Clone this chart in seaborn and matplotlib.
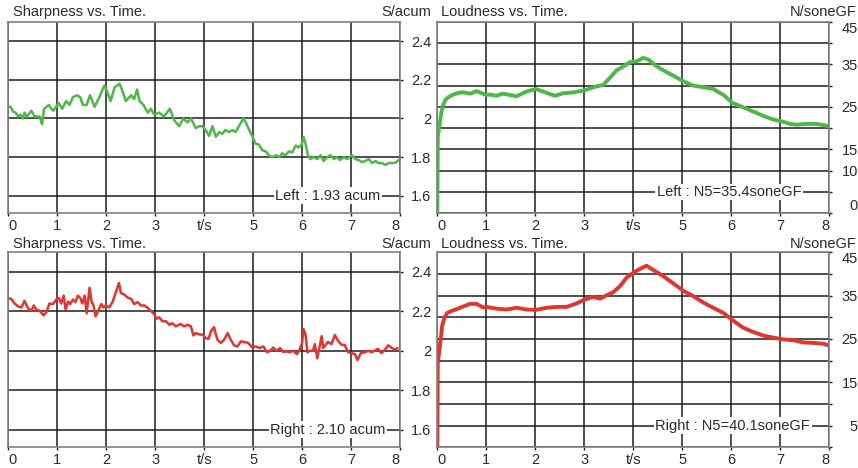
import matplotlib
matplotlib.use("Agg")
import matplotlib.pyplot as plt
import pandas as pd
import seaborn as sns

# ---------------- data ----------------
sharp_left_t = [0.00, 0.05, 0.10, 0.15, 0.20, 0.25, 0.30, 0.33, 0.38, 0.47, 0.54, 0.64, 0.69, 0.73, 0.83, 0.88, 0.92,
                1.03, 1.10, 1.18, 1.25, 1.32, 1.40, 1.47, 1.52, 1.60, 1.67, 1.76, 1.86, 1.96, 2.03, 2.09, 2.17, 2.27,
                2.32, 2.40, 2.51, 2.57, 2.63, 2.68, 2.76, 2.85, 2.91, 2.98, 3.08, 3.18, 3.30, 3.39, 3.49, 3.57, 3.66,
                3.73, 3.83, 3.90, 3.97, 4.03, 4.10, 4.17, 4.24, 4.31, 4.37, 4.43, 4.51, 4.58, 4.64, 4.71, 4.80, 4.85,
                4.92, 4.98, 5.05, 5.12, 5.19, 5.26, 5.32, 5.39, 5.47, 5.54, 5.59, 5.66, 5.73, 5.80, 5.87, 5.93, 5.99,
                6.03, 6.07, 6.12, 6.17, 6.24, 6.31, 6.38, 6.44, 6.51, 6.58, 6.65, 6.71, 6.78, 6.85, 6.92, 7.02, 7.09,
                7.16, 7.22, 7.29, 7.36, 7.43, 7.50, 7.56, 7.63, 7.70, 7.77, 7.83, 7.90, 7.97]
sharp_left_v = [2.06, 2.06, 2.035, 2.03, 2.01, 2.02, 2.00, 2.03, 2.01, 2.04, 2.01, 2.01, 1.97, 2.05, 2.07, 2.05, 2.04,
                2.08, 2.05, 2.09, 2.07, 2.11, 2.12, 2.11, 2.07, 2.07, 2.12, 2.06, 2.11, 2.17, 2.13, 2.09, 2.16, 2.18,
                2.15, 2.09, 2.12, 2.10, 2.15, 2.09, 2.07, 2.03, 2.05, 2.02, 2.03, 2.01, 2.05, 1.99, 1.96, 2.00, 1.98,
                2.00, 1.95, 1.96, 1.96, 1.94, 1.91, 1.96, 1.905, 1.93, 1.92, 1.94, 1.93, 1.94, 1.93, 1.96, 2.00, 1.98,
                1.94, 1.91, 1.87, 1.865, 1.835, 1.83, 1.81, 1.80, 1.81, 1.80, 1.82, 1.81, 1.83, 1.825, 1.86, 1.85, 1.865,
                1.905, 1.87, 1.81, 1.79, 1.80, 1.79, 1.81, 1.78, 1.80, 1.81, 1.79, 1.80, 1.785, 1.80, 1.79, 1.81, 1.79,
                1.785, 1.775, 1.78, 1.79, 1.77, 1.78, 1.77, 1.77, 1.76, 1.77, 1.77, 1.77, 1.785]

sharp_right_t = [0.00, 0.06, 0.13, 0.20, 0.27, 0.33, 0.40, 0.47, 0.52, 0.57, 0.64, 0.72, 0.78, 0.84, 0.91, 0.98, 1.03,
                 1.08, 1.13, 1.17, 1.22, 1.26, 1.32, 1.37, 1.42, 1.47, 1.51, 1.56, 1.60, 1.66, 1.70, 1.74, 1.78, 1.83,
                 1.90, 1.94, 2.00, 2.06, 2.13, 2.19, 2.26, 2.30, 2.37, 2.44, 2.51, 2.57, 2.64, 2.71, 2.78, 2.85, 2.91,
                 2.98, 3.03, 3.08, 3.15, 3.22, 3.29, 3.35, 3.42, 3.52, 3.59, 3.66, 3.73, 3.78, 3.83, 3.90, 3.97, 4.03,
                 4.09, 4.14, 4.20, 4.27, 4.34, 4.41, 4.48, 4.54, 4.61, 4.68, 4.75, 4.81, 4.90, 4.98, 5.05, 5.13, 5.21,
                 5.28, 5.35, 5.41, 5.48, 5.55, 5.62, 5.68, 5.75, 5.82, 5.89, 5.95, 6.00, 6.03, 6.07, 6.11, 6.16, 6.22,
                 6.26, 6.31, 6.36, 6.40, 6.43, 6.48, 6.53, 6.60, 6.67, 6.74, 6.81, 6.87, 6.94, 7.01, 7.08, 7.13, 7.20,
                 7.28, 7.35, 7.42, 7.48, 7.55, 7.62, 7.69, 7.76, 7.82, 7.89, 7.95]
sharp_right_v = [2.265, 2.264, 2.24, 2.225, 2.22, 2.254, 2.217, 2.203, 2.23, 2.21, 2.203, 2.18, 2.197, 2.24, 2.237, 2.26,
                 2.268, 2.24, 2.28, 2.21, 2.25, 2.237, 2.26, 2.247, 2.28, 2.268, 2.24, 2.28, 2.19, 2.32, 2.25, 2.23,
                 2.175, 2.20, 2.237, 2.22, 2.23, 2.22, 2.247, 2.293, 2.344, 2.293, 2.285, 2.27, 2.263, 2.237, 2.247,
                 2.23, 2.23, 2.217, 2.203, 2.186, 2.163, 2.17, 2.15, 2.15, 2.132, 2.14, 2.124, 2.136, 2.124, 2.132,
                 2.124, 2.078, 2.09, 2.083, 2.082, 2.065, 2.06, 2.10, 2.12, 2.057, 2.04, 2.057, 2.09, 2.057, 2.028,
                 2.022, 2.048, 2.045, 2.04, 2.017, 2.022, 2.014, 2.022, 1.993, 2.00, 2.017, 2.00, 2.014, 1.993, 1.997,
                 1.993, 2.00, 1.983, 2.005, 2.04, 2.11, 2.083, 1.993, 2.00, 2.00, 2.034, 1.962, 2.022, 2.074, 2.014,
                 2.03, 2.045, 2.034, 2.08, 2.048, 2.03, 2.03, 1.993, 1.988, 1.983, 1.953, 1.988, 1.993, 2.00, 1.993,
                 2.00, 2.01, 1.988, 2.005, 2.028, 2.017, 2.005, 2.014]

loud_left_t = [0.00, 0.01, 0.05, 0.08, 0.12, 0.17, 0.23, 0.33, 0.43, 0.53, 0.67, 0.80, 0.93, 1.00, 1.07, 1.21, 1.33,
               1.48, 1.62, 1.82, 2.01, 2.16, 2.40, 2.57, 2.78, 3.01, 3.18, 3.39, 3.52, 3.66, 3.80, 3.93, 4.07, 4.20,
               4.31, 4.48, 4.61, 4.82, 5.02, 5.22, 5.43, 5.63, 5.84, 6.03, 6.24, 6.45, 6.65, 6.86, 7.03, 7.20, 7.33,
               7.54, 7.74, 7.98]
loud_left_v = [0.0, 18.0, 21.0, 23.6, 25.5, 26.7, 27.3, 27.9, 28.3, 28.4, 28.1, 28.7, 28.1, 27.8, 27.9, 27.6, 28.1,
               27.8, 27.5, 28.6, 29.2, 28.6, 27.6, 28.2, 28.4, 28.9, 29.6, 30.2, 31.8, 33.6, 34.5, 35.5, 35.7, 36.5,
               36.1, 34.5, 33.6, 32.3, 31.0, 30.0, 29.6, 29.2, 27.8, 25.9, 24.9, 23.9, 22.9, 22.0, 21.6, 21.0, 20.8,
               21.0, 21.0, 20.5]

loud_right_t = [0.00, 0.01, 0.03, 0.07, 0.10, 0.15, 0.20, 0.30, 0.40, 0.53, 0.67, 0.80, 0.93, 1.00, 1.21, 1.41, 1.62,
                1.82, 2.01, 2.23, 2.44, 2.64, 2.84, 3.01, 3.18, 3.32, 3.46, 3.59, 3.73, 3.86, 4.00, 4.14, 4.27, 4.41,
                4.61, 4.82, 5.02, 5.22, 5.43, 5.63, 5.84, 6.03, 6.24, 6.45, 6.65, 6.86, 7.06, 7.27, 7.47, 7.67, 7.88,
                7.98]
loud_right_v = [0.0, 20.0, 21.2, 25.0, 28.1, 30.0, 31.0, 31.5, 31.9, 32.5, 33.1, 33.1, 32.3, 32.4, 32.0, 31.8, 32.2,
                31.8, 31.7, 32.2, 32.4, 32.4, 33.2, 34.1, 34.7, 34.3, 35.1, 35.8, 37.2, 39.1, 40.3, 41.2, 41.9, 40.9,
                39.5, 37.8, 36.1, 34.9, 33.4, 32.2, 31.0, 29.3, 27.6, 26.6, 25.8, 25.3, 24.9, 24.7, 24.2, 24.1, 23.9,
                23.5]

x_ticks = [0, 1, 2, 3, 4, 5, 6, 7, 8]
x_labels = ["0", "1", "2", "3", "t/s", "5", "6", "7", "8"]
sharp_ticks = [1.6, 1.8, 2.0, 2.2, 2.4]
sharp_labels = ["1.6", "1.8", "2", "2.2", "2.4"]
loud_ticks = [0, 5, 10, 15, 20, 25, 30, 35, 40, 45]
loud_labels_top = ["0", "", "10", "15", "", "25", "", "35", "", "45"]
loud_labels_bot = ["", "5", "", "15", "", "25", "", "35", "", "45"]

titles = ["Sharpness vs. Time.", "Loudness vs. Time."]
units = ["S/acum", "N/soneGF"]
notes = {"tl": "Left : 1.93 acum", "tr": "Left : N5=35.4soneGF",
         "bl": "Right : 2.10 acum", "br": "Right : N5=40.1soneGF"}

# ---------------- style ----------------
sns.set_style("white")
plt.rcParams["font.family"] = ["Liberation Sans", "DejaVu Sans"]
FS = 10.5
TXT = "#2a2a2a"
GREEN = "#4db848"
RED = "#e2352d"

W, H = 858, 468
fig = plt.figure(figsize=(W / 100, H / 100), dpi=100)


def add_ax(l, t, r, b):
    return fig.add_axes([l / W, 1 - b / H, (r - l) / W, (b - t) / H])


ax_tl = add_ax(8.3, 21.7, 400, 213.3)
ax_tr = add_ax(437.3, 21.7, 829.3, 213.3)
ax_bl = add_ax(8.3, 252.3, 400, 447.3)
ax_br = add_ax(437.3, 252.3, 829.3, 447.3)


def style(ax, yticks, ylabels, ylim, ypad):
    ax.set_xlim(0, 8)
    ax.set_ylim(*ylim)
    ax.set_axisbelow(True)
    ax.grid(True, color="#1e1e1e", lw=1.1)
    ax.set_xticks(x_ticks)
    ax.set_xticklabels(x_labels)
    ax.set_yticks(yticks)
    ax.set_yticklabels(ylabels)
    ax.yaxis.tick_right()
    ax.tick_params(axis="x", bottom=True, direction="out", length=2.5, width=1, color="#1e1e1e",
                   pad=1.5, labelsize=FS, labelcolor=TXT)
    ax.tick_params(axis="y", right=True, left=False, direction="out", length=2, width=1, color="#1e1e1e",
                   pad=ypad, labelsize=FS, labelcolor=TXT)
    for lab in ax.get_yticklabels():
        lab.set_ha("right")
    xl = ax.get_xticklabels()
    xl[0].set_ha("left")
    xl[-1].set_ha("right")
    for s in ax.spines.values():
        s.set_color("#808080")
        s.set_linewidth(1.2)
    ax.set_xlabel("")
    ax.set_ylabel("")


def draw(ax, t, v, color, lw):
    df = pd.DataFrame({"t": t, "v": v})
    sns.lineplot(data=df, x="t", y="v", ax=ax, color=color, lw=lw, estimator=None, sort=False)


draw(ax_tl, sharp_left_t, sharp_left_v, GREEN, 1.8)
draw(ax_bl, sharp_right_t, sharp_right_v, RED, 1.8)
draw(ax_tr, loud_left_t, loud_left_v, GREEN, 2.8)
draw(ax_br, loud_right_t, loud_right_v, RED, 2.8)

style(ax_tl, sharp_ticks, sharp_labels, (1.51, 2.50), 20.5)
style(ax_bl, sharp_ticks, sharp_labels, (1.51, 2.50), 20.5)
style(ax_tr, loud_ticks, loud_labels_top, (0, 45), 18.6)
style(ax_br, loud_ticks, loud_labels_bot, (0, 45), 18.6)

for ax in (ax_tr, ax_br):
    yl = ax.get_yticklabels()
    yl[0].set_va("bottom")
    yl[-1].set_va("top")

# annotation text sitting on a grid line
box = dict(fc="white", ec="none", pad=1.0)
ax_tl.text(6.53, 1.6, notes["tl"], ha="center", va="center", fontsize=FS, color=TXT, bbox=box, zorder=5)
ax_bl.text(6.53, 1.6, notes["bl"], ha="center", va="center", fontsize=FS, color=TXT, bbox=box, zorder=5)
ax_tr.text(5.95, 5, notes["tr"], ha="center", va="center", fontsize=FS, color=TXT, bbox=box, zorder=5)
ax_br.text(6.03, 5, notes["br"], ha="center", va="center", fontsize=FS, color=TXT, bbox=box, zorder=5)

# titles and units above each panel
for ycen in (12, 244):
    fig.text(13 / W, 1 - ycen / H, titles[0], ha="left", va="center", fontsize=FS, color=TXT)
    fig.text(431 / W, 1 - ycen / H, units[0], ha="right", va="center", fontsize=FS, color=TXT)
    fig.text(441 / W, 1 - ycen / H, titles[1], ha="left", va="center", fontsize=FS, color=TXT)
    fig.text(857 / W, 1 - ycen / H, units[1], ha="right", va="center", fontsize=FS, color=TXT)

fig.savefig("out.png", dpi=100, facecolor="white")
